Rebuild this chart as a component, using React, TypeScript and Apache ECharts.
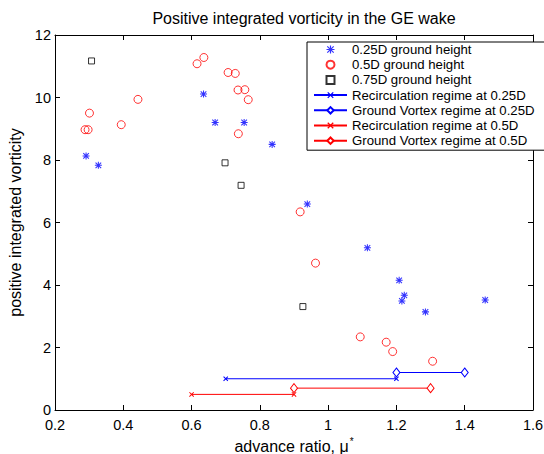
import React, { useEffect, useRef } from "react";
import * as echarts from "echarts";

const xTicks = { min: 0.2, max: 1.6, interval: 0.2 };
const yTicks = { min: 0, max: 12, interval: 2 };

const gh025X = [0.291, 0.327, 0.635, 0.669, 0.754, 0.836, 0.939, 1.115, 1.208, 1.223, 1.216, 1.285, 1.46];
const gh025Y = [8.13, 7.83, 10.11, 9.2, 9.2, 8.5, 6.59, 5.19, 4.15, 3.67, 3.49, 3.14, 3.52];

const gh05X = [0.288, 0.297, 0.301, 0.394, 0.443, 0.616, 0.636, 0.707, 0.728, 0.736, 0.756, 0.766, 0.737, 0.918, 0.963, 1.094, 1.17, 1.189, 1.306];
const gh05Y = [8.97, 8.97, 9.5, 9.13, 9.94, 11.08, 11.28, 10.8, 10.77, 10.24, 10.25, 9.93, 8.84, 6.34, 4.7, 2.34, 2.17, 1.87, 1.56];

const gh075X = [0.307, 0.698, 0.745, 0.926];
const gh075Y = [11.17, 7.91, 7.19, 3.31];

const recirc025X = [0.7, 1.2];
const recirc025Y = [1.0, 1.0];
const gv025X = [1.2, 1.4];
const gv025Y = [1.2, 1.2];
const recirc05X = [0.6, 0.9];
const recirc05Y = [0.5, 0.5];
const gv05X = [0.9, 1.3];
const gv05Y = [0.7, 0.7];

const names = [
  "0.25D ground height",
  "0.5D ground height",
  "0.75D ground height",
  "Recirculation regime at 0.25D",
  "Ground Vortex regime at 0.25D",
  "Recirculation regime at 0.5D",
  "Ground Vortex regime at 0.5D",
];

const zip = (xs: number[], ys: number[]) => xs.map((x, i) => [x, ys[i]]);

const FONT = "'Liberation Sans', Arial, Helvetica, sans-serif";
const STAR =
  "path://M8.5 0H11.5V20H8.5Z M0 8.5H20V11.5H0Z M0.94 3.06L3.06 0.94L19.06 16.94L16.94 19.06Z M16.94 0.94L19.06 3.06L3.06 19.06L0.94 16.94Z";
const CROSS = "path://M0 1.4L1.4 0L10 8.6L8.6 10Z M8.6 0L10 1.4L1.4 10L0 8.6Z";
const SQUARE = "path://M0 0H10V10H0Z";

export default function App() {
  const ref = useRef<HTMLDivElement>(null);
  useEffect(() => {
    if (!ref.current) return;
    const chart = echarts.init(ref.current, null, { renderer: "svg" });
    const axisCommon = {
      axisLine: { show: true, onZero: false, lineStyle: { color: "#000", width: 1 } },
      axisTick: { show: true, inside: true, length: 5, lineStyle: { color: "#000" } },
      splitLine: { show: false },
    };
    const fmt = (v: number) => String(+v.toFixed(1));
    const lineSeries = (
      name: string,
      xs: number[],
      ys: number[],
      color: string,
      kind: "x" | "d"
    ) => ({
      name,
      type: "line",
      data: zip(xs, ys),
      symbol: kind === "x" ? CROSS : "diamond",
      symbolSize: kind === "x" ? 5 : [7, 9],
      showAllSymbol: true,
      lineStyle: { color, width: 1 },
      itemStyle:
        kind === "x"
          ? { color }
          : { color: "#fff", borderColor: color, borderWidth: 1 },
      z: 3,
    });
    chart.setOption({
      animation: false,
      backgroundColor: "#fff",
      textStyle: { fontFamily: FONT },
      title: {
        text: "Positive integrated vorticity in the GE wake",
        left: 299,
        top: 5,
        textAlign: "center",
        textStyle: { fontFamily: FONT, fontSize: 16, fontWeight: "normal", color: "#000" },
      },
      grid: { left: 55, right: 11, top: 35, bottom: 44, containLabel: false, outerBoundsMode: "none" },
      legend: {
        data: names,
        orient: "vertical",
        left: 307,
        top: 42,
        padding: [1, 11, 3, 6],
        itemWidth: 33,
        itemHeight: 8,
        itemGap: 2.2,
        borderColor: "#000",
        borderWidth: 1,
        backgroundColor: "#fff",
        textStyle: { fontFamily: FONT, fontSize: 13.2, lineHeight: 13, color: "#000" },
        z: 10,
      },
      xAxis: [
        {
          type: "value",
          ...xTicks,
          position: "bottom",
          ...axisCommon,
          axisLabel: { color: "#000", fontSize: 14.5, fontFamily: FONT, margin: 7, formatter: fmt },
          name: "advance ratio, μ{sup|*}",
          nameLocation: "middle",
          nameGap: 23,
          nameTextStyle: {
            color: "#000",
            fontSize: 16,
            fontFamily: FONT,
            rich: { sup: { fontSize: 10, verticalAlign: "top", padding: [0, 0, 9, 1], fontFamily: FONT, color: "#000" } },
          },
        },
        {
          type: "value",
          ...xTicks,
          position: "top",
          ...axisCommon,
          axisLabel: { show: false },
        },
      ],
      yAxis: [
        {
          type: "value",
          ...yTicks,
          position: "left",
          ...axisCommon,
          axisLabel: { color: "#000", fontSize: 14.5, fontFamily: FONT, margin: 4 },
          name: "positive integrated vorticity",
          nameLocation: "middle",
          nameGap: 22,
          nameTextStyle: { color: "#000", fontSize: 16, fontFamily: FONT },
        },
        {
          type: "value",
          ...yTicks,
          position: "right",
          ...axisCommon,
          axisLabel: { show: false },
        },
      ],
      series: [
        {
          name: names[0],
          type: "scatter",
          data: zip(gh025X, gh025Y),
          symbol: STAR,
          symbolSize: 7,
          itemStyle: { color: "#0000ff" },
        },
        {
          name: names[1],
          type: "scatter",
          data: zip(gh05X, gh05Y),
          symbol: "circle",
          symbolSize: 8,
          itemStyle: { color: "rgba(0,0,0,0)", borderColor: "#ff0000", borderWidth: 1 },
        },
        {
          name: names[2],
          type: "scatter",
          data: zip(gh075X, gh075Y),
          symbol: SQUARE,
          symbolSize: 6,
          itemStyle: { color: "rgba(0,0,0,0)", borderColor: "#000", borderWidth: 1 },
        },
        lineSeries(names[3], recirc025X, recirc025Y, "#0000ff", "x"),
        lineSeries(names[4], gv025X, gv025Y, "#0000ff", "d"),
        lineSeries(names[5], recirc05X, recirc05Y, "#ff0000", "x"),
        lineSeries(names[6], gv05X, gv05Y, "#ff0000", "d"),
      ],
    });
    return () => chart.dispose();
  }, []);
  return <div ref={ref} style={{ width: 544, height: 454, position: "absolute", left: 0, top: 0 }} />;
}
